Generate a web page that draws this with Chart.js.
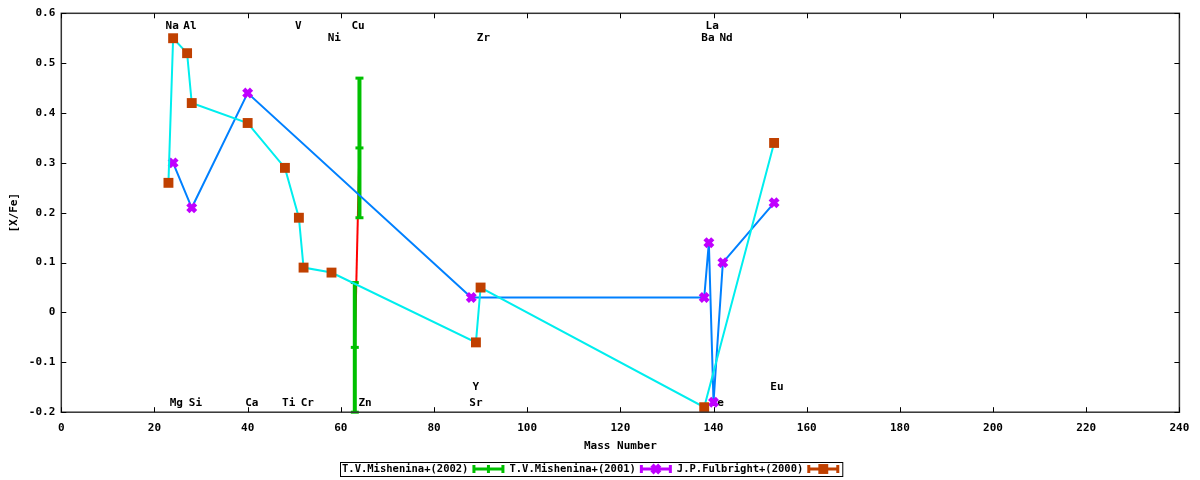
<!DOCTYPE html>
<html>
<head>
<meta charset="utf-8">
<script src="https://cdn.jsdelivr.net/npm/chart.js@4.4.1/dist/chart.umd.min.js"></script>
<style>
  html, body { margin: 0; padding: 0; background: #fff; }
</style>
</head>
<body>
<canvas id="chart" width="1200" height="480"></canvas>
<script>
const FONT_FAMILY = "'DejaVu Sans Mono', 'Liberation Mono', monospace";

// T.V.Mishenina+(2002) - values with error bars
const mish02Mass = [63, 64];
const mish02Val = [-0.07, 0.33];
const mish02Err = [0.13, 0.14];

// T.V.Mishenina+(2001)
const mish01Mass = [24, 28, 40, 88, 138, 139, 140, 142, 153];
const mish01Val = [0.30, 0.21, 0.44, 0.03, 0.03, 0.14, -0.18, 0.10, 0.22];

// J.P.Fulbright+(2000)
const fulbMass = [23, 24, 27, 28, 40, 48, 51, 52, 58, 89, 90, 138, 153];
const fulbVal = [0.26, 0.55, 0.52, 0.42, 0.38, 0.29, 0.19, 0.09, 0.08, -0.06, 0.05, -0.19, 0.34];

// element name labels, placed in data coordinates
const elemNames = ['Na', 'Al', 'V', 'Cu', 'Ni', 'Zr', 'La', 'Ba', 'Nd',
                   'Mg', 'Si', 'Ca', 'Ti', 'Cr', 'Zn', 'Y', 'Sr', 'Ce', 'Eu'];
const elemX = [23.8, 27.6, 50.9, 63.7, 58.6, 90.6, 139.7, 138.8, 142.7,
               24.7, 28.8, 40.9, 48.8, 52.8, 65.2, 89.0, 89.0, 140.8, 153.6];
const elemY = [0.575, 0.575, 0.575, 0.575, 0.55, 0.55, 0.575, 0.55, 0.55,
               -0.182, -0.182, -0.182, -0.182, -0.182, -0.182, -0.149, -0.182, -0.182, -0.149];

const seriesNames = ['T.V.Mishenina+(2002)', 'T.V.Mishenina+(2001)', 'J.P.Fulbright+(2000)'];
const seriesColors = ['#00c000', '#c000ff', '#c04000'];
const seriesMarkers = [null, 'crossRot', 'rect'];

const xTicks = [0, 20, 40, 60, 80, 100, 120, 140, 160, 180, 200, 220, 240];
const yTicks = [-0.2, -0.1, 0, 0.1, 0.2, 0.3, 0.4, 0.5, 0.6];

const pts = (xs, ys) => xs.map((m, i) => ({ x: m, y: ys[i] }));

const datasets = [];
// line joining the 2002 values (drawn underneath the bars)
datasets.push({
  data: pts(mish02Mass, mish02Val),
  borderColor: '#ff0000', borderWidth: 2, pointRadius: 0, order: 10, clip: false
});
mish02Mass.forEach((m, i) => {
  datasets.push({
    data: [
      { x: m, y: mish02Val[i] + mish02Err[i] },
      { x: m, y: mish02Val[i] },
      { x: m, y: mish02Val[i] - mish02Err[i] }
    ],
    borderColor: seriesColors[0], borderWidth: 4,
    pointStyle: 'line', pointRadius: 4, pointBorderWidth: 3,
    pointBorderColor: seriesColors[0], order: 9, clip: false
  });
});
datasets.push({
  data: pts(mish01Mass, mish01Val),
  borderColor: '#0080ff', borderWidth: 2,
  pointStyle: 'crossRot', pointRadius: 5.5, pointBorderWidth: 4.5,
  pointBorderColor: seriesColors[1], pointBackgroundColor: seriesColors[1],
  order: 2, clip: false
});
datasets.push({
  data: pts(fulbMass, fulbVal),
  borderColor: '#00eeee', borderWidth: 2,
  pointStyle: 'rect', pointRadius: 7, pointBorderWidth: 0,
  pointBorderColor: seriesColors[2], pointBackgroundColor: seriesColors[2],
  order: 1, clip: false
});

const gnuplotLook = {
  id: 'gnuplotLook',
  beforeDatasetsDraw(chart) {
    const { ctx, scales: { x, y } } = chart;
    ctx.save();
    ctx.font = 'bold 11px ' + FONT_FAMILY;
    ctx.fillStyle = '#000';
    ctx.textAlign = 'center';
    ctx.textBaseline = 'middle';
    elemNames.forEach((n, i) => {
      ctx.fillText(n, x.getPixelForValue(elemX[i]), y.getPixelForValue(elemY[i]));
    });
    ctx.restore();
  },
  afterDraw(chart) {
    const { ctx, chartArea: a, scales: { x, y } } = chart;
    ctx.save();
    // frame
    ctx.strokeStyle = '#333';
    ctx.lineWidth = 1.5;
    ctx.strokeRect(a.left, a.top, a.right - a.left, a.bottom - a.top);
    // inward ticks on all four sides
    ctx.lineWidth = 1;
    ctx.strokeStyle = '#000';
    ctx.beginPath();
    xTicks.forEach(v => {
      const px = Math.round(x.getPixelForValue(v)) + 0.5;
      ctx.moveTo(px, a.bottom); ctx.lineTo(px, a.bottom - 5);
      ctx.moveTo(px, a.top); ctx.lineTo(px, a.top + 5);
    });
    yTicks.forEach(v => {
      const py = Math.round(y.getPixelForValue(v)) + 0.5;
      ctx.moveTo(a.left, py); ctx.lineTo(a.left + 5, py);
      ctx.moveTo(a.right, py); ctx.lineTo(a.right - 5, py);
    });
    ctx.stroke();

    // legend: text followed by an error-bar sample
    ctx.font = 'bold 10.5px ' + FONT_FAMILY;
    ctx.textBaseline = 'middle';
    ctx.textAlign = 'left';
    const sampleW = 32, gapA = 4, gapB = 5;
    const widths = seriesNames.map(t => ctx.measureText(t).width);
    let total = 1 + 4;
    widths.forEach((w, i) => { total += w + gapA + sampleW + (i < widths.length - 1 ? gapB : 0); });
    const cy = 469;
    let lx = Math.round(591 - total / 2);
    ctx.strokeStyle = '#000';
    ctx.lineWidth = 1;
    ctx.strokeRect(lx + 0.5, 462.5, total, 14);
    let cx = lx + 2;
    seriesNames.forEach((t, i) => {
      ctx.fillStyle = '#000';
      ctx.fillText(t, cx, cy + 0.5);
      cx += widths[i] + gapA;
      const col = seriesColors[i];
      ctx.strokeStyle = col;
      ctx.lineWidth = 3;
      ctx.beginPath();
      ctx.moveTo(cx, cy); ctx.lineTo(cx + sampleW, cy);
      ctx.moveTo(cx + 1.5, cy - 4); ctx.lineTo(cx + 1.5, cy + 4);
      ctx.moveTo(cx + sampleW - 1.5, cy - 4); ctx.lineTo(cx + sampleW - 1.5, cy + 4);
      if (!seriesMarkers[i]) {
        ctx.moveTo(cx + sampleW / 2, cy - 4); ctx.lineTo(cx + sampleW / 2, cy + 4);
      }
      ctx.stroke();
      if (seriesMarkers[i]) {
        ctx.fillStyle = col;
        ctx.lineWidth = seriesMarkers[i] === 'rect' ? 0.01 : 4.5;
        Chart.helpers.drawPoint(ctx, {
          pointStyle: seriesMarkers[i],
          radius: seriesMarkers[i] === 'rect' ? 7 : 5.5,
          rotation: 0,
          borderWidth: ctx.lineWidth
        }, cx + sampleW / 2, cy);
      }
      cx += sampleW + gapB;
    });
    ctx.restore();
  }
};

const fmt = v => (Math.abs(v) < 1e-9 ? '0' : String(Math.round(v * 10) / 10));

new Chart(document.getElementById('chart').getContext('2d'), {
  type: 'line',
  data: { datasets: datasets },
  options: {
    responsive: false,
    animation: false,
    devicePixelRatio: 1,
    events: [],
    layout: { padding: { left: 0, right: 20.6, top: 13.3, bottom: 0 } },
    plugins: { legend: { display: false }, tooltip: { enabled: false } },
    scales: {
      x: {
        type: 'linear', min: 0, max: 240,
        afterFit: s => { s.height = 67.8; },
        afterBuildTicks: s => { s.ticks = xTicks.map(v => ({ value: v })); },
        grid: { display: false, drawTicks: false },
        border: { display: false },
        ticks: { color: '#000', padding: 9, maxRotation: 0, font: { family: FONT_FAMILY, size: 11, weight: 'bold' } },
        title: {
          display: true, text: 'Mass Number', color: '#000',
          padding: { top: 0, bottom: 27.7 },
          font: { family: FONT_FAMILY, size: 11, weight: 'bold' }
        }
      },
      y: {
        type: 'linear', min: -0.2, max: 0.6,
        afterFit: s => { s.width = 61.3; },
        afterBuildTicks: s => { s.ticks = yTicks.map(v => ({ value: v })); },
        grid: { display: false, drawTicks: false },
        border: { display: false },
        ticks: {
          color: '#000', padding: 6, callback: fmt,
          font: { family: FONT_FAMILY, size: 11, weight: 'bold' }
        },
        title: {
          display: true, text: '[X/Fe]', color: '#000',
          padding: { top: 7.7, bottom: 0 },
          font: { family: FONT_FAMILY, size: 11, weight: 'bold' }
        }
      }
    }
  },
  plugins: [gnuplotLook]
});
</script>
</body>
</html>
